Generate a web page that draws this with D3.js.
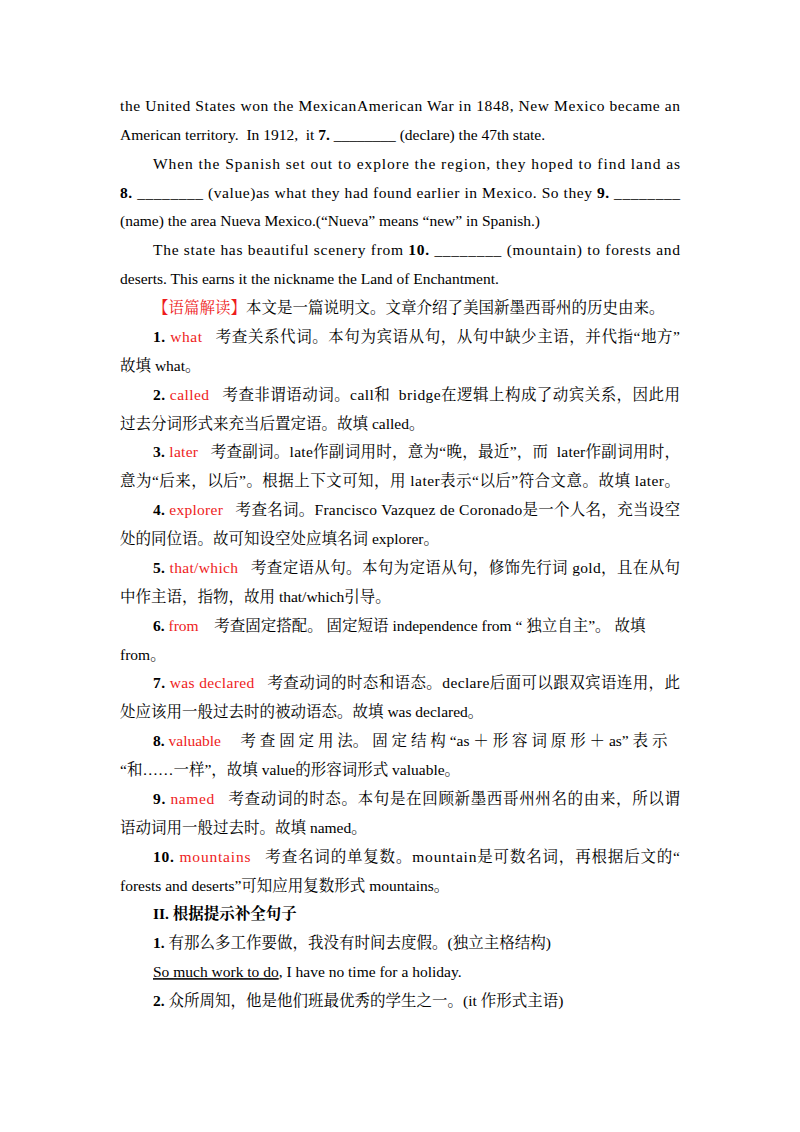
<!DOCTYPE html>
<html><head><meta charset="utf-8">
<script src="https://cdn.jsdelivr.net/npm/d3@7"></script>
<style>body{margin:0;background:#fff}</style></head>
<body><svg id="c" width="800" height="1132"></svg>
<script>
// Each line: [indent(0/1), justify(0/1), segments]; segment: [text, style] style n=normal b=bold r=red u=underline
const passageLines = [
 [0,1,[["the United States won the MexicanAmerican War in 1848, New Mexico became an","n"]]],
 [0,0,[["American territory.  In 1912,  it ","n"],["7.","b"],[" ________ (declare) the 47th state.","n"]]],
 [1,1,[["When the Spanish set out to explore the region, they hoped to find land as","n"]]],
 [0,1,[["8.","b"],[" ________ (value)as what they had found earlier in Mexico. So they ","n"],["9.","b"],[" ________","n"]]],
 [0,0,[["(name) the area Nueva Mexico.(“Nueva” means “new” in Spanish.)","n"]]],
 [1,1,[["The state has beautiful scenery from ","n"],["10.","b"],[" ________ (mountain) to forests and","n"]]],
 [0,0,[["deserts. This earns it the nickname the Land of Enchantment.","n"]]]
];
const analysisLines = [
 [1,0,[["【语篇解读】","r"],["本文是一篇说明文。文章介绍了美国新墨西哥州的历史由来。","n"]]],
 [1,1,[["1. ","b"],["what","r"],["   考查关系代词。本句为宾语从句，从句中缺少主语，并代指“地方”","n"]]],
 [0,0,[["故填 what。","n"]]],
 [1,1,[["2. ","b"],["called","r"],["   考查非谓语动词。call和  bridge在逻辑上构成了动宾关系，因此用","n"]]],
 [0,0,[["过去分词形式来充当后置定语。故填 called。","n"]]],
 [1,1,[["3. ","b"],["later","r"],["   考查副词。late作副词用时，意为“晚，最近”，而  later作副词用时，","n"]]],
 [0,1,[["意为“后来，以后”。根据上下文可知，用 later表示“以后”符合文意。故填 later。","n"]]],
 [1,1,[["4. ","b"],["explorer","r"],["   考查名词。Francisco Vazquez de Coronado是一个人名，充当设空","n"]]],
 [0,0,[["处的同位语。故可知设空处应填名词 explorer。","n"]]],
 [1,1,[["5. ","b"],["that/which","r"],["   考查定语从句。本句为定语从句，修饰先行词 gold，且在从句","n"]]],
 [0,0,[["中作主语，指物，故用 that/which引导。","n"]]],
 [1,0,[["6. ","b"],["from","r"],["    考查固定搭配。 固定短语 independence from “ 独立自主”。 故填","n"]]],
 [0,0,[["from。","n"]]],
 [1,1,[["7. ","b"],["was declared","r"],["   考查动词的时态和语态。declare后面可以跟双宾语连用，此","n"]]],
 [0,0,[["处应该用一般过去时的被动语态。故填 was declared。","n"]]],
 [1,0,[["8. ","b"],["valuable","r"],["     考 查 固 定 用 法。 固 定 结 构 “as ＋ 形 容 词 原 形 ＋ as” 表 示","n"]]],
 [0,0,[["“和……一样”，故填 value的形容词形式 valuable。","n"]]],
 [1,1,[["9. ","b"],["named","r"],["   考查动词的时态。本句是在回顾新墨西哥州州名的由来，所以谓","n"]]],
 [0,0,[["语动词用一般过去时。故填 named。","n"]]],
 [1,1,[["10. ","b"],["mountains","r"],["   考查名词的单复数。mountain是可数名词，再根据后文的“","n"]]],
 [0,0,[["forests and deserts”可知应用复数形式 mountains。","n"]]]
];
const exerciseLines = [
 [1,0,[["II. 根据提示补全句子","b"]]],
 [1,0,[["1. ","b"],["有那么多工作要做，我没有时间去度假。(独立主格结构)","n"]]],
 [1,0,[["So much work to do","u"],[", I have no time for a holiday.","n"]]],
 [1,0,[["2. ","b"],["众所周知，他是他们班最优秀的学生之一。(it 作形式主语)","n"]]]
];
const lines = passageLines.concat(analysisLines, exerciseLines);
const svg = d3.select("#c");
const y = d3.scaleLinear().domain([0, lines.length-1]).range([111, 1006]);
const x = d3.scaleOrdinal().domain([0,1]).range([120,153]);
const right = 680;
const t = svg.selectAll("text.l").data(lines).join("text")
  .attr("class","l")
  .attr("x", d=>x(d[0])).attr("y",(d,i)=>y(i))
  .attr("font-family","'Liberation Serif','Noto Serif CJK SC','Noto Sans CJK SC',serif")
  .attr("font-size",15.5).attr("fill","#000").attr("xml:space","preserve").style("white-space","pre");
t.each(function(d){
  const el=d3.select(this);
  el.selectAll("tspan").data(d[2]).join("tspan").text(s=>s[0])
   .attr("font-weight",s=>s[1]==="b"?"bold":null)
   .attr("fill",s=>s[1]==="r"?"#ee1c1c":null)
   .attr("text-decoration",s=>s[1]==="u"?"underline":null);
  if(d[1]) el.attr("textLength", right - x(d[0])).attr("lengthAdjust","spacing");
});
</script></body></html>
